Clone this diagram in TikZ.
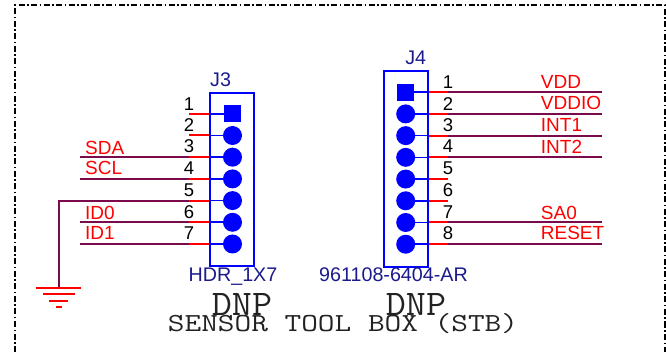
\documentclass[tikz,border=0pt]{standalone}
\usepackage{fontspec}
\setmainfont{Liberation Sans}
\usetikzlibrary{matrix}
\definecolor{wirecol}{HTML}{7A0A4A}
\definecolor{refcol}{HTML}{1A1A8C}
\definecolor{monocol}{HTML}{222222}
\tikzset{
	hdrbox/.style={draw=blue,line width=2pt,minimum width=44pt,inner sep=0pt},
	pinhole/.style={circle,fill=blue,minimum size=19pt,inner sep=0pt,anchor=center},
	pinsq/.style={rectangle,fill=blue,minimum size=17pt,inner sep=0pt,anchor=center},
	pinnum/.style={anchor=base,inner sep=0pt,font=\fontsize{18.5}{18.5}\selectfont},
	signal/.style={anchor=base west,inner sep=0pt,text=red,font=\fontsize{19}{19}\selectfont},
	refname/.style={anchor=base,inner sep=0pt,text=refcol,font=\fontsize{19.7}{19.7}\selectfont},
	monotext/.style 2 args={anchor=base,inner sep=0pt,text=monocol,xscale=#2,transform shape,font=\ttfamily\fontsize{#1}{#1}\selectfont},
	stub/.style={draw=red,line width=2pt},
	lead/.style={draw=blue,line width=1.6pt},
	wire/.style={draw=wirecol,line width=2pt}
}
\begin{document}
\begin{tikzpicture}[x=1pt,y=-1pt]
		\useasboundingbox (0,0) rectangle (666,352);
		% sheet border
		\coordinate (bl) at (15,352);
		\coordinate (tl) at (15,5.5);
		\coordinate (tr) at (665,5.5);
		\coordinate (br) at (665,352);
		\draw[line width=2pt,dash pattern=on 6pt off 2.5pt on 1.5pt off 2.5pt] (bl) -- (tl) -- (tr) -- (br);

		% J3
		\node[hdrbox,minimum height=173pt] (j3box) at (232,179.5) {};
		\matrix[matrix of nodes,nodes={pinhole},row sep={21.7pt,between origins},ampersand replacement=\&] at (232.5,179.4)
		{
			|[pinsq](j3p1)| \\
			|(j3p2)| \\
			|(j3p3)| \\
			|(j3p4)| \\
			|(j3p5)| \\
			|(j3p6)| \\
			|(j3p7)| \\
		};
		\node[refname] (j3ref) at (220.6,86.7) {J3};
		\node[refname] (j3val) at (233,282) {HDR\_1X7};
		\node[pinnum] (a1) at (189,110.6) {1};
		\node[pinnum] (a2) at (189,132) {2};
		\node[pinnum] (a3) at (189,153) {3};
		\node[pinnum] (a4) at (189,175) {4};
		\node[pinnum] (a5) at (189,197) {5};
		\node[pinnum] (a6) at (189,219) {6};
		\node[pinnum] (a7) at (189,240) {7};
		\node[signal] (sda) at (85,155) {SDA};
		\node[signal] (scl) at (85,175) {SCL};
		\node[signal] (id0) at (85,220) {ID0};
		\node[signal] (id1) at (85,240) {ID1};
		\coordinate (wleft) at (80,158);
		\coordinate (gnd) at (58.5,288);

		\draw[wire] (j3p3 -| wleft) -- (j3p3 -| a3);
		\draw[wire] (j3p4 -| wleft) -- (j3p4 -| a4);
		\draw[wire] (j3p5 -| a5) -- (j3p5 -| gnd) -- (gnd);
		\draw[wire] (j3p6 -| wleft) -- (j3p6 -| a6);
		\draw[wire] (j3p7 -| wleft) -- (j3p7 -| a7);
		\draw[lead] (j3p1) -- (j3p1 -| j3box.west);
		\draw[lead] (j3p2) -- (j3p2 -| j3box.west);
		\draw[lead] (j3p3) -- (j3p3 -| j3box.west);
		\draw[lead] (j3p4) -- (j3p4 -| j3box.west);
		\draw[lead] (j3p5) -- (j3p5 -| j3box.west);
		\draw[lead] (j3p6) -- (j3p6 -| j3box.west);
		\draw[lead] (j3p7) -- (j3p7 -| j3box.west);
		\draw[stub] (j3p1 -| j3box.west) -- (j3p1 -| a1);
		\draw[stub] (j3p2 -| j3box.west) -- (j3p2 -| a2);
		\draw[stub] (j3p3 -| j3box.west) -- (j3p3 -| a3);
		\draw[stub] (j3p4 -| j3box.west) -- (j3p4 -| a4);
		\draw[stub] (j3p5 -| j3box.west) -- (j3p5 -| a5);
		\draw[stub] (j3p6 -| j3box.west) -- (j3p6 -| a6);
		\draw[stub] (j3p7 -| j3box.west) -- (j3p7 -| a7);

		% ground
		\draw[stub] ([xshift=-22.5pt]gnd) -- ([xshift=22.5pt]gnd);
		\draw[stub] ([shift={(-15.5,6.5)}]gnd) -- ([shift={(16.5,6.5)}]gnd);
		\draw[stub] ([shift={(-9.5,13)}]gnd) -- ([shift={(9.5,13)}]gnd);
		\draw[stub] ([shift={(-3,19)}]gnd) -- ([shift={(3,19)}]gnd);

		% J4
		\node[hdrbox,minimum height=196pt] (j4box) at (406,169) {};
		\matrix[matrix of nodes,nodes={pinhole},row sep={21.72pt,between origins},ampersand replacement=\&] at (405.7,168.7)
		{
			|[pinsq](j4p1)| \\
			|(j4p2)| \\
			|(j4p3)| \\
			|(j4p4)| \\
			|(j4p5)| \\
			|(j4p6)| \\
			|(j4p7)| \\
			|(j4p8)| \\
		};
		\node[refname] (j4ref) at (415.7,65) {J4};
		\node[refname] (j4val) at (393.5,281.7) {961108-6404-AR};
		\node[pinnum] (b1) at (448,89) {1};
		\node[pinnum] (b2) at (448,110.6) {2};
		\node[pinnum] (b3) at (448,132) {3};
		\node[pinnum] (b4) at (448,153) {4};
		\node[pinnum] (b5) at (448,175) {5};
		\node[pinnum] (b6) at (448,197) {6};
		\node[pinnum] (b7) at (448,219) {7};
		\node[pinnum] (b8) at (448,240) {8};
		\node[signal] (vdd) at (540.7,89) {VDD};
		\node[signal] (vddio) at (540.7,110) {VDDIO};
		\node[signal] (int1) at (540.7,132) {INT1};
		\node[signal] (int2) at (540.7,154) {INT2};
		\node[signal] (sa0) at (540.7,220) {SA0};
		\node[signal] (reset) at (540.7,240) {RESET};
		\coordinate (wright) at (602,92);

		\draw[wire] (j4p1 -| b1) -- (j4p1 -| wright);
		\draw[wire] (j4p2 -| b2) -- (j4p2 -| wright);
		\draw[wire] (j4p3 -| b3) -- (j4p3 -| wright);
		\draw[wire] (j4p4 -| b4) -- (j4p4 -| wright);
		\draw[wire] (j4p7 -| b7) -- (j4p7 -| wright);
		\draw[wire] (j4p8 -| b8) -- (j4p8 -| wright);
		\draw[lead] (j4p1) -- (j4p1 -| j4box.east);
		\draw[lead] (j4p2) -- (j4p2 -| j4box.east);
		\draw[lead] (j4p3) -- (j4p3 -| j4box.east);
		\draw[lead] (j4p4) -- (j4p4 -| j4box.east);
		\draw[lead] (j4p5) -- (j4p5 -| j4box.east);
		\draw[lead] (j4p6) -- (j4p6 -| j4box.east);
		\draw[lead] (j4p7) -- (j4p7 -| j4box.east);
		\draw[lead] (j4p8) -- (j4p8 -| j4box.east);
		\draw[stub] (j4p1 -| j4box.east) -- (j4p1 -| b1);
		\draw[stub] (j4p2 -| j4box.east) -- (j4p2 -| b2);
		\draw[stub] (j4p3 -| j4box.east) -- (j4p3 -| b3);
		\draw[stub] (j4p4 -| j4box.east) -- (j4p4 -| b4);
		\draw[stub] (j4p5 -| j4box.east) -- (j4p5 -| b5);
		\draw[stub] (j4p6 -| j4box.east) -- (j4p6 -| b6);
		\draw[stub] (j4p7 -| j4box.east) -- (j4p7 -| b7);
		\draw[stub] (j4p8 -| j4box.east) -- (j4p8 -| b8);

		% notes
		\node[monotext={36}{1.08}] (dnpa) at (242,316) {DNP};
		\node[monotext={36}{1.08}] (dnpb) at (416,316) {DNP};
		\node[monotext={26}{1.245}] (title) at (343,331.7) {SENSOR TOOL BOX (STB)};
		\end{tikzpicture}
\end{document}
